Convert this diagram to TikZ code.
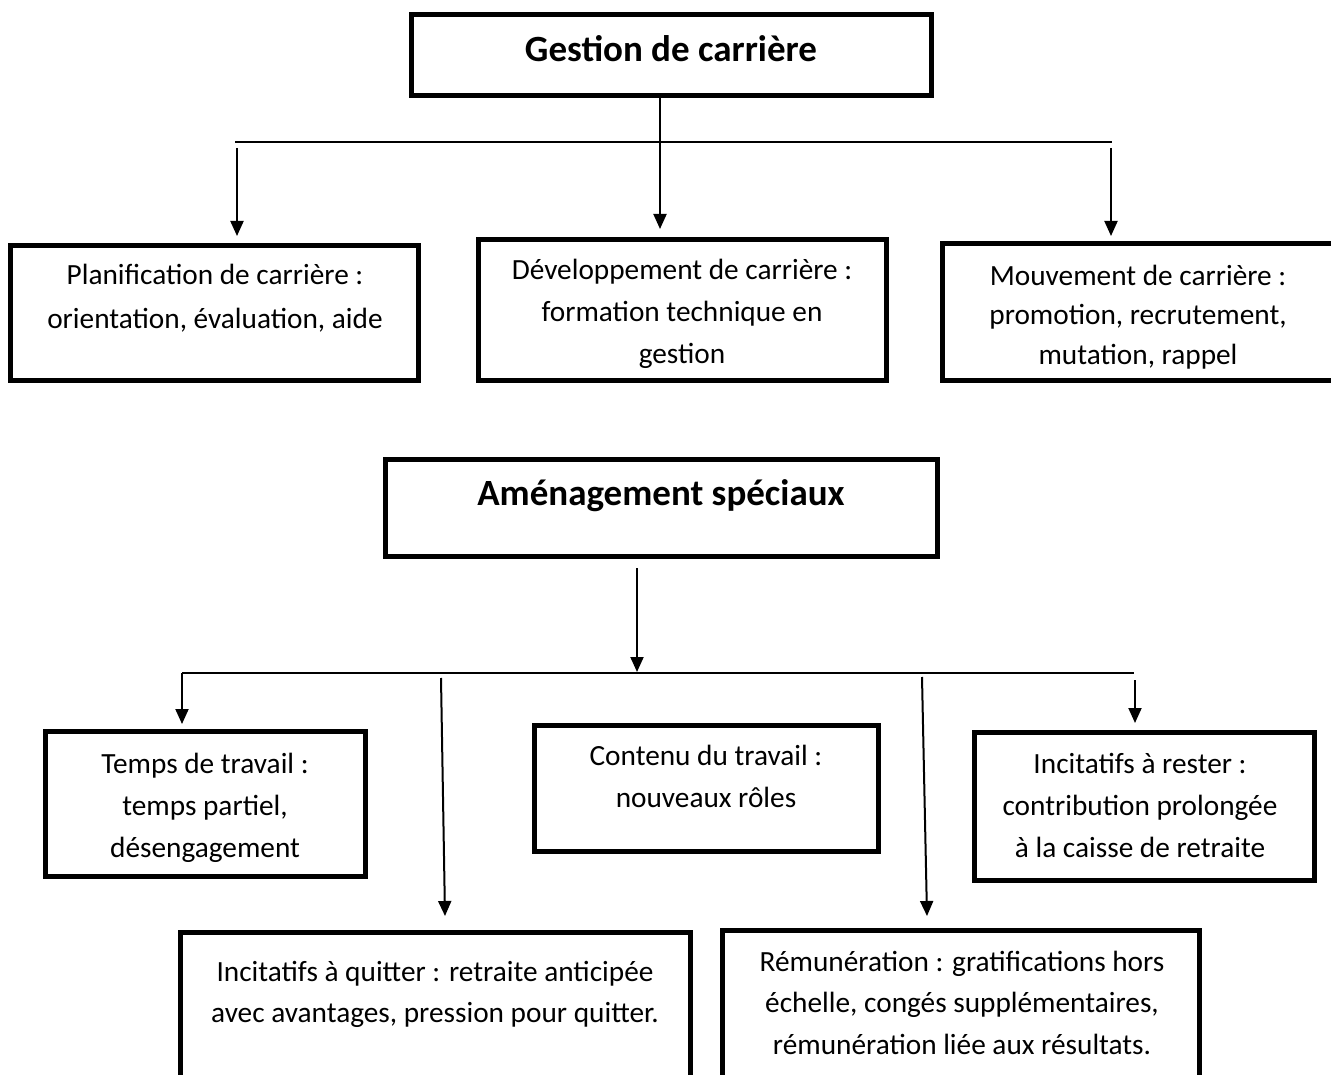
\documentclass[tikz,border=0pt]{standalone}
\usepackage{fontspec}
\setmainfont{Carlito}
\usetikzlibrary{arrows.meta}
\begin{document}
\begin{tikzpicture}[x=1pt,y=-1pt,
  box/.style={draw, line width=5pt, inner sep=0pt},
  txt/.style={font=\fontsize{29.3}{42}\selectfont, align=center, anchor=base, inner sep=0pt},
  ttl/.style={font=\fontsize{37}{44}\selectfont\bfseries, anchor=base, inner sep=0pt},
  conn/.style={line width=2pt},
  arr/.style={conn, -{Triangle[length=15pt,width=13pt]}}]
\useasboundingbox (0,0) rectangle (1331,1075);

% --- boxes, top section (text nodes are placed by the baseline of their last line)
\node[box, minimum width=520pt, minimum height=81pt] (B1) at (671,55) {};
\node[ttl] (B1t) at (671,62) {Gestion de carrière};
\node[box, minimum width=408pt, minimum height=134pt] (L1) at (214,313) {};
\node[txt, font=\fontsize{29.3}{44}\selectfont] (L1t) at (215,329) {Planification de carrière :\\orientation, évaluation, aide};
\node[box, minimum width=408pt, minimum height=140pt] (M1) at (682,310) {};
\node[txt] (M1t) at (682,363) {Développement de carrière :\\formation technique en\\gestion};
\node[box, minimum width=393pt, minimum height=136pt] (R1) at (1138.5,312) {};
\node[txt, font=\fontsize{29.3}{40}\selectfont] (R1t) at (1138,365) {Mouvement de carrière :\\promotion, recrutement,\\mutation, rappel};

% --- connectors, top section
\coordinate (b1s) at (660,98);
\coordinate (m1a) at (660,229);
\coordinate (hl) at (235,142);
\coordinate (hr) at (1112,142);
\coordinate (l1s) at (237,148);
\coordinate (l1a) at (237,236);
\coordinate (r1s) at (1111,148);
\coordinate (r1a) at (1111,236);
\draw[arr] (b1s) -- (m1a);
\draw[conn] (hl) -- (hr);
\draw[arr] (l1s) -- (l1a);
\draw[arr] (r1s) -- (r1a);

% --- boxes, bottom section
\node[box, minimum width=552pt, minimum height=97pt] (B2) at (661,507.5) {};
\node[ttl] (B2t) at (661,505) {Aménagement spéciaux};
\node[box, minimum width=320pt, minimum height=145pt] (T) at (205,803.5) {};
\node[txt] (Tt) at (205,857) {Temps de travail :\\temps partiel,\\désengagement};
\node[box, minimum width=344pt, minimum height=126pt] (C) at (706,788) {};
\node[txt] (Ct) at (706,807) {Contenu du travail :\\nouveaux rôles};
\node[box, minimum width=340pt, minimum height=148pt] (I) at (1144,806) {};
\node[txt] (It) at (1140,857) {Incitatifs à rester :\\contribution prolongée\\à la caisse de retraite};
\node[box, minimum width=510pt, minimum height=160pt] (Q) at (435,1012) {};
\node[txt, font=\fontsize{29.3}{41}\selectfont] (Qt) at (435,1022) {Incitatifs à quitter : retraite anticipée\\avec avantages, pression pour quitter.};
\node[box, minimum width=477pt, minimum height=164pt] (Rm) at (960.5,1012) {};
\node[txt, font=\fontsize{29.3}{41.5}\selectfont] (Rmt) at (962,1054) {Rémunération : gratifications hors\\échelle, congés supplémentaires,\\rémunération liée aux résultats.};

% --- connectors, bottom section
\coordinate (b2s) at (637,568);
\coordinate (b2a) at (637,672);
\coordinate (hl2) at (182,673);
\coordinate (hr2) at (1134,673);
\coordinate (ta) at (182,724);
\coordinate (qs) at (441,678);
\coordinate (qa) at (445,916);
\coordinate (rs) at (922,677);
\coordinate (ra) at (927,916);
\coordinate (is) at (1135,680);
\coordinate (ia) at (1135,723);
\draw[arr] (b2s) -- (b2a);
\draw[conn] (hl2) -- (hr2);
\draw[arr] (hl2) -- (ta);
\draw[arr] (qs) -- (qa);
\draw[arr] (rs) -- (ra);
\draw[arr] (is) -- (ia);
\end{tikzpicture}
\end{document}
